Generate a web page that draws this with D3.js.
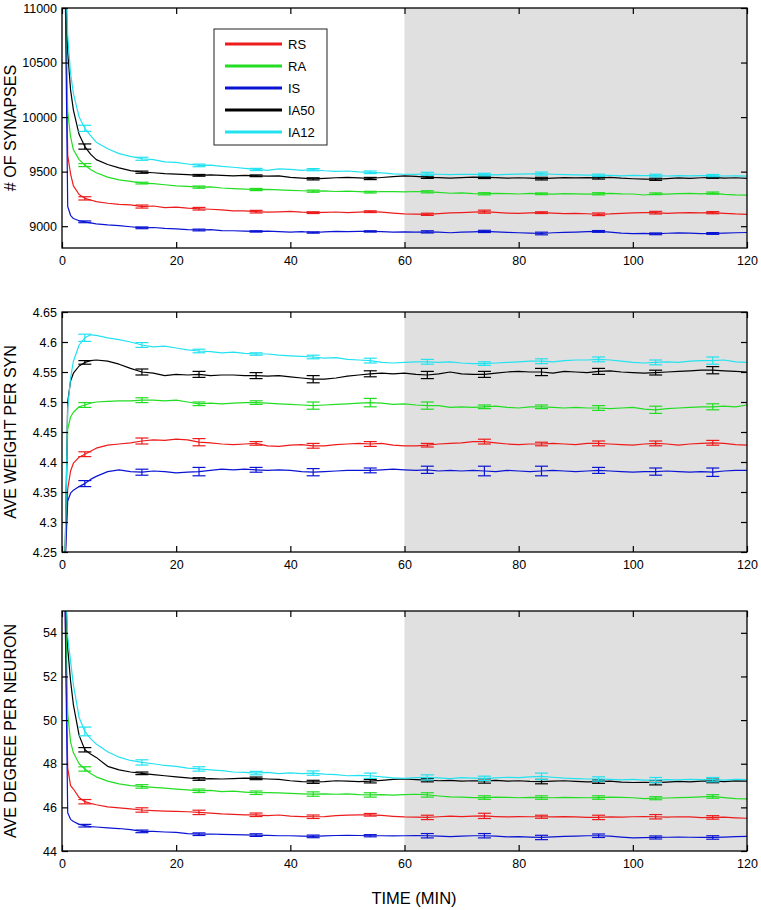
<!DOCTYPE html>
<html><head><meta charset="utf-8">
<script src="https://cdn.jsdelivr.net/npm/d3@7"></script>
<style>
html,body{margin:0;padding:0;background:#fff;}
svg{display:block;font-family:"Liberation Sans",Arial,sans-serif;}
</style></head>
<body><svg id="chart" width="761" height="910"></svg>
<script>
// ---------- DATA ----------
const seriesNames = ["RS", "RA", "IS", "IA50", "IA12"];
const seriesColors = ["#ec1c1c", "#22dd22", "#0a14d2", "#000000", "#22e2f0"];
const times = [0.5,1,1.5,2,3,4,5,6,8,10,
  12,14,16,18,20,22,24,26,28,30,
  32,34,36,38,40,42,44,46,48,50,
  52,54,56,58,60,62,64,66,68,70,
  72,74,76,78,80,82,84,86,88,90,
  92,94,96,98,100,102,104,106,108,110,
  112,114,116,118,120];
const errTimes = [4,14,24,34,44,54,64,74,84,94,104,114];
const xTicks = [0,20,40,60,80,100,120];
const shadeRange = [60,120];

// # of synapses
const synRS = [11500,9650,9480,9370,9290,9255,9240,9225,9210,9200,
  9195,9180,9185,9170,9175,9165,9160,9155,9150,9140,
  9140,9133,9128,9132,9135,9128,9124,9126,9130,9125,
  9128,9133,9128,9120,9112,9110,9109,9115,9122,9125,
  9128,9133,9126,9120,9118,9122,9124,9120,9116,9118,
  9114,9109,9112,9118,9122,9124,9124,9118,9122,9125,
  9122,9124,9118,9112,9109];
const synRA = [11500,10050,9820,9700,9610,9560,9520,9490,9450,9425,
  9410,9395,9390,9380,9370,9365,9358,9360,9350,9345,
  9340,9336,9338,9332,9328,9325,9321,9324,9318,9322,
  9316,9312,9318,9316,9314,9318,9315,9310,9302,9305,
  9299,9297,9300,9298,9295,9300,9297,9294,9299,9297,
  9293,9297,9300,9296,9295,9286,9297,9294,9298,9300,
  9297,9303,9292,9287,9285];
const synIS = [11500,9180,9100,9070,9050,9040,9030,9022,9012,9005,
  8995,8985,8988,8980,8975,8968,8965,8968,8960,8958,
  8955,8952,8955,8950,8946,8950,8942,8948,8953,8950,
  8952,8952,8950,8946,8948,8945,8948,8945,8940,8945,
  8948,8952,8947,8943,8940,8936,8933,8940,8944,8946,
  8950,8952,8946,8936,8932,8934,8930,8935,8938,8936,
  8932,8933,8936,8940,8942];
const synIA50 = [11500,10600,10250,10064,9840,9730,9660,9610,9565,9535,
  9510,9495,9490,9482,9478,9472,9466,9470,9465,9462,
  9465,9462,9458,9462,9448,9440,9434,9438,9444,9448,
  9442,9437,9446,9455,9462,9456,9448,9446,9440,9446,
  9450,9447,9445,9440,9444,9440,9436,9441,9446,9442,
  9445,9442,9448,9440,9435,9432,9430,9436,9442,9438,
  9444,9447,9441,9444,9439];
const synIA12 = [11500,10750,10400,10215,10000,9897,9830,9770,9710,9665,
  9640,9618,9610,9590,9585,9570,9557,9560,9548,9540,
  9530,9520,9512,9525,9520,9512,9518,9508,9502,9506,
  9498,9494,9488,9480,9476,9474,9480,9476,9472,9476,
  9474,9473,9470,9475,9478,9480,9482,9476,9472,9470,
  9468,9467,9466,9462,9465,9463,9464,9460,9463,9461,
  9464,9464,9460,9462,9458];
const synErrRS = [15,14,12,12,8,8,10,14,8,12,12,10];
const synErrRA = [14,8,10,10,10,8,10,10,8,10,8,10];
const synErrIS = [8,8,8,6,6,6,10,10,12,8,8,8];
const synErrIA50 = [24,10,8,8,10,10,10,10,12,10,10,8];
const synErrIA12 = [28,14,12,10,10,12,14,12,14,10,12,10];
const synTicks = [9000,9500,10000,10500,11000];

// ave weight per syn
const wtRS = [4.22,4.355,4.385,4.398,4.408,4.413,4.418,4.423,4.428,4.430,
  4.432,4.435,4.437,4.436,4.438,4.437,4.433,4.432,4.430,4.429,
  4.430,4.431,4.427,4.426,4.428,4.429,4.427,4.427,4.429,4.430,
  4.431,4.430,4.431,4.428,4.427,4.427,4.428,4.430,4.431,4.432,
  4.434,4.434,4.432,4.430,4.429,4.430,4.430,4.431,4.430,4.429,
  4.431,4.431,4.430,4.429,4.428,4.430,4.431,4.430,4.428,4.430,
  4.431,4.432,4.431,4.429,4.428];
const wtRA = [4.22,4.455,4.475,4.483,4.492,4.495,4.498,4.500,4.501,4.502,
  4.502,4.503,4.503,4.502,4.503,4.500,4.497,4.498,4.497,4.498,
  4.499,4.499,4.498,4.497,4.496,4.495,4.494,4.495,4.496,4.497,
  4.498,4.499,4.498,4.496,4.497,4.495,4.494,4.494,4.491,4.492,
  4.491,4.492,4.493,4.491,4.490,4.492,4.492,4.491,4.490,4.491,
  4.490,4.490,4.489,4.490,4.491,4.488,4.487,4.489,4.490,4.491,
  4.492,4.492,4.493,4.492,4.495];
const wtIS = [4.22,4.335,4.348,4.353,4.359,4.364,4.371,4.376,4.384,4.387,
  4.384,4.383,4.385,4.384,4.382,4.383,4.384,4.386,4.388,4.387,
  4.388,4.387,4.386,4.387,4.386,4.384,4.383,4.384,4.385,4.386,
  4.386,4.386,4.387,4.388,4.387,4.386,4.387,4.385,4.386,4.385,
  4.386,4.385,4.384,4.386,4.385,4.384,4.385,4.386,4.385,4.384,
  4.385,4.386,4.385,4.384,4.383,4.384,4.384,4.385,4.384,4.383,
  4.384,4.383,4.385,4.386,4.386];
const wtIA50 = [4.22,4.50,4.535,4.548,4.560,4.566,4.569,4.570,4.568,4.563,
  4.556,4.550,4.548,4.544,4.546,4.545,4.546,4.544,4.545,4.545,
  4.544,4.544,4.543,4.544,4.542,4.540,4.538,4.538,4.540,4.543,
  4.545,4.547,4.548,4.547,4.548,4.546,4.545,4.547,4.550,4.547,
  4.546,4.546,4.548,4.550,4.551,4.550,4.550,4.548,4.551,4.550,
  4.549,4.551,4.552,4.550,4.549,4.548,4.549,4.550,4.551,4.552,
  4.553,4.553,4.552,4.551,4.550];
const wtIA12 = [4.22,4.49,4.54,4.568,4.595,4.607,4.612,4.611,4.607,4.604,
  4.600,4.595,4.592,4.593,4.590,4.587,4.585,4.584,4.582,4.583,
  4.581,4.580,4.580,4.578,4.577,4.576,4.575,4.573,4.574,4.571,
  4.570,4.569,4.566,4.565,4.566,4.567,4.567,4.566,4.567,4.565,
  4.564,4.564,4.565,4.566,4.567,4.568,4.568,4.567,4.569,4.570,
  4.570,4.571,4.570,4.568,4.566,4.565,4.566,4.567,4.566,4.568,
  4.569,4.569,4.570,4.567,4.566];
const wtErrRS = [0.004,0.005,0.006,0.003,0.004,0.004,0.003,0.004,0.003,0.004,0.004,0.004];
const wtErrRA = [0.004,0.004,0.003,0.003,0.006,0.007,0.006,0.003,0.003,0.004,0.006,0.005];
const wtErrIS = [0.005,0.005,0.007,0.004,0.006,0.004,0.006,0.008,0.008,0.005,0.006,0.007];
const wtErrIA50 = [0.003,0.005,0.005,0.005,0.006,0.005,0.006,0.005,0.006,0.005,0.004,0.006];
const wtErrIA12 = [0.006,0.004,0.003,0.002,0.003,0.004,0.004,0.003,0.004,0.004,0.004,0.006];
const wtTicks = [4.25,4.3,4.35,4.4,4.45,4.5,4.55,4.6,4.65];

// ave degree per neuron
const degRS = [56,47.8,47.0,46.84,46.45,46.26,46.18,46.12,46.02,45.98,
  45.93,45.88,45.85,45.83,45.82,45.80,45.77,45.74,45.70,45.68,
  45.66,45.66,45.62,45.65,45.60,45.58,45.57,45.58,45.62,45.64,
  45.66,45.66,45.63,45.59,45.56,45.55,45.54,45.57,45.60,45.58,
  45.60,45.61,45.58,45.56,45.58,45.57,45.57,45.56,45.58,45.56,
  45.54,45.54,45.56,45.55,45.57,45.58,45.57,45.55,45.57,45.56,
  45.53,45.54,45.55,45.52,45.50];
const degRA = [57,50.3,49.0,48.5,48.0,47.76,47.55,47.40,47.20,47.08,
  47.00,46.96,46.92,46.88,46.84,46.80,46.76,46.78,46.72,46.74,
  46.70,46.67,46.68,46.66,46.64,46.62,46.61,46.62,46.60,46.62,
  46.58,46.57,46.58,46.56,46.58,46.60,46.57,46.52,46.48,46.47,
  46.45,46.45,46.47,46.46,46.44,46.46,46.45,46.44,46.46,46.45,
  46.44,46.45,46.47,46.46,46.44,46.40,46.42,46.43,46.45,46.46,
  46.48,46.50,46.45,46.40,46.39];
const degIS = [56,45.75,45.45,45.35,45.22,45.16,45.12,45.10,45.06,45.03,
  44.98,44.90,44.90,44.87,44.85,44.80,44.77,44.78,44.76,44.75,
  44.74,44.73,44.72,44.70,44.70,44.68,44.67,44.69,44.71,44.72,
  44.71,44.70,44.70,44.69,44.70,44.71,44.70,44.68,44.66,44.68,
  44.70,44.70,44.68,44.65,44.66,44.64,44.62,44.65,44.67,44.68,
  44.70,44.70,44.68,44.64,44.60,44.61,44.62,44.63,44.64,44.63,
  44.62,44.62,44.64,44.66,44.67];
const degIA50 = [57,53.3,51.8,50.7,49.3,48.64,48.45,48.29,47.88,47.72,
  47.62,47.56,47.50,47.45,47.40,47.35,47.30,47.32,47.30,47.32,
  47.34,47.33,47.30,47.28,47.22,47.18,47.17,47.18,47.22,47.20,
  47.18,47.20,47.24,47.28,47.30,47.27,47.25,47.22,47.24,47.20,
  47.22,47.21,47.24,47.20,47.22,47.19,47.18,47.20,47.22,47.19,
  47.17,47.18,47.20,47.16,47.14,47.15,47.13,47.16,47.19,47.17,
  47.20,47.21,47.18,47.21,47.20];
const degIA12 = [57,53.8,52.7,51.6,50.12,49.48,49.15,48.90,48.55,48.30,
  48.15,48.06,48.00,47.92,47.88,47.80,47.76,47.72,47.68,47.62,
  47.60,47.57,47.60,47.55,47.58,47.55,47.57,47.52,47.50,47.45,
  47.47,47.45,47.40,47.35,47.33,47.36,47.37,47.35,47.32,47.36,
  47.34,47.33,47.35,47.38,47.36,47.40,47.42,47.38,47.34,47.32,
  47.30,47.30,47.28,47.26,47.28,47.25,47.25,47.27,47.26,47.28,
  47.27,47.27,47.25,47.28,47.27];
const degErrRS = [0.1,0.1,0.1,0.08,0.08,0.06,0.1,0.12,0.07,0.1,0.1,0.08];
const degErrRA = [0.1,0.08,0.08,0.08,0.1,0.1,0.1,0.08,0.08,0.08,0.07,0.08];
const degErrIS = [0.06,0.06,0.06,0.06,0.06,0.05,0.1,0.1,0.1,0.08,0.07,0.08];
const degErrIA50 = [0.1,0.06,0.06,0.06,0.07,0.08,0.08,0.1,0.1,0.08,0.1,0.08];
const degErrIA12 = [0.2,0.12,0.1,0.08,0.1,0.12,0.12,0.1,0.15,0.1,0.12,0.1];
const degTicks = [44,46,48,50,52,54];

// ---------- PANELS ----------
const panels = [
  {title:"# OF SYNAPSES", domain:[8800,11000], ticks:synTicks, fmt:d3.format("d"), top:8, bottom:248,
   vals:[synRS,synRA,synIS,synIA50,synIA12], errs:[synErrRS,synErrRA,synErrIS,synErrIA50,synErrIA12]},
  {title:"AVE WEIGHT PER SYN", domain:[4.25,4.65], ticks:wtTicks, fmt:d=>String(+d.toFixed(2)), top:312, bottom:552,
   vals:[wtRS,wtRA,wtIS,wtIA50,wtIA12], errs:[wtErrRS,wtErrRA,wtErrIS,wtErrIA50,wtErrIA12]},
  {title:"AVE DEGREE PER NEURON", domain:[44,55], ticks:degTicks, fmt:d3.format("d"), top:611, bottom:851,
   vals:[degRS,degRA,degIS,degIA50,degIA12], errs:[degErrRS,degErrRA,degErrIS,degErrIA50,degErrIA12]}
];

const svg = d3.select("#chart");
const x = d3.scaleLinear().domain([0,120]).range([62,747]);
const TICK = 6, CAP = 6.5;

panels.forEach((p, pi) => {
  const y = d3.scaleLinear().domain(p.domain).range([p.bottom, p.top]);
  const g = svg.append("g");
  const cid = "clip" + pi;
  svg.append("clipPath").attr("id", cid).append("rect")
    .attr("x", x(0)).attr("y", p.top).attr("width", x(120)-x(0)).attr("height", p.bottom-p.top);

  g.append("rect").attr("x", x(shadeRange[0])).attr("y", p.top)
    .attr("width", x(shadeRange[1]) - x(shadeRange[0])).attr("height", p.bottom - p.top)
    .attr("fill", "#e0e0e0");

  const plot = g.append("g").attr("clip-path", `url(#${cid})`);
  const line = d3.line().x((d,i)=>x(times[i])).y(d=>y(d));
  p.vals.forEach((vals, si) => {
    plot.append("path").datum(vals).attr("d", line)
      .attr("fill","none").attr("stroke", seriesColors[si]).attr("stroke-width",1.2)
      .attr("stroke-linejoin","round");
    const eb = plot.append("g").attr("stroke", seriesColors[si]).attr("stroke-width",1.2);
    errTimes.forEach((t, k) => {
      const v = vals[times.indexOf(t)], e = p.errs[si][k];
      const cx = x(t), y1 = y(v - e), y2 = y(v + e);
      eb.append("line").attr("x1",cx).attr("x2",cx).attr("y1",y1).attr("y2",y2);
      eb.append("line").attr("x1",cx-CAP).attr("x2",cx+CAP).attr("y1",y1).attr("y2",y1);
      eb.append("line").attr("x1",cx-CAP).attr("x2",cx+CAP).attr("y1",y2).attr("y2",y2);
    });
  });

  const axL = g.append("g").attr("transform",`translate(${x(0)},0)`)
    .call(d3.axisLeft(y).tickValues(p.ticks).tickFormat(p.fmt).tickSizeInner(-TICK).tickSizeOuter(0).tickPadding(5));
  const axR = g.append("g").attr("transform",`translate(${x(120)},0)`)
    .call(d3.axisRight(y).tickValues(p.ticks).tickFormat("").tickSizeInner(-TICK).tickSizeOuter(0));
  const axB = g.append("g").attr("transform",`translate(0,${p.bottom})`)
    .call(d3.axisBottom(x).tickValues(xTicks).tickFormat(d3.format("d")).tickSizeInner(-TICK).tickSizeOuter(0).tickPadding(8));
  const axT = g.append("g").attr("transform",`translate(0,${p.top})`)
    .call(d3.axisTop(x).tickValues(xTicks).tickFormat("").tickSizeInner(-TICK).tickSizeOuter(0));
  [axL,axR,axB,axT].forEach(a => {
    a.select(".domain").remove();
    a.selectAll("line").attr("stroke","#000").attr("stroke-width",1.2);
    a.selectAll("text").attr("fill","#000").style("font-size","12.5px")
      .style("font-family",'"Liberation Sans",Arial,sans-serif');
  });
  g.append("rect").attr("x", x(0)).attr("y", p.top).attr("width", x(120)-x(0)).attr("height", p.bottom-p.top)
    .attr("fill","none").attr("stroke","#000").attr("stroke-width",1.3);

  g.append("text").attr("transform",`translate(15.5,${(p.top+p.bottom)/2}) rotate(-90)`)
    .attr("text-anchor","middle").style("font-size","16px").attr("fill","#000").text(p.title);
});

svg.append("text").attr("x", 414).attr("y", 904).attr("text-anchor","middle")
  .style("font-size","16.5px").attr("fill","#000").text("TIME (MIN)");

const lg = svg.append("g");
lg.append("rect").attr("x",214).attr("y",29).attr("width",113).attr("height",116)
  .attr("fill","#fff").attr("stroke","#222").attr("stroke-width",1);
seriesNames.forEach((n,i) => {
  const yy = 44 + i*22;
  lg.append("line").attr("x1",225).attr("x2",282).attr("y1",yy).attr("y2",yy)
    .attr("stroke",seriesColors[i]).attr("stroke-width",3);
  lg.append("text").attr("x",288).attr("y",yy+4.5).style("font-size","13px").attr("fill","#000").text(n);
});
</script></body></html>
